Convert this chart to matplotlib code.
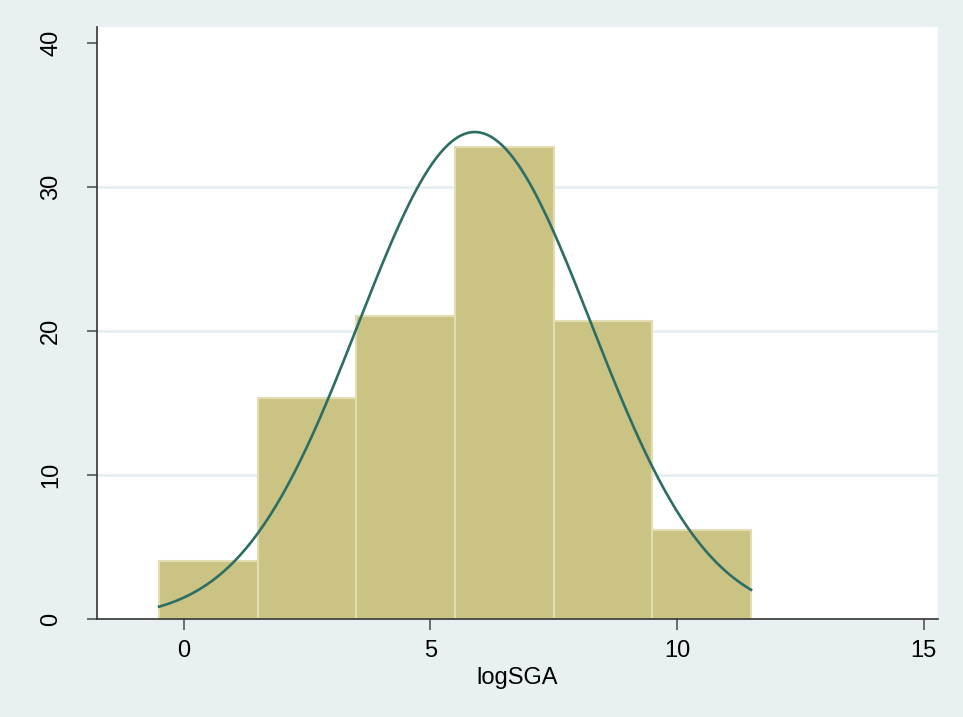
import numpy as np
import matplotlib.pyplot as plt

# histogram of logSGA (percent per bin), bins of width 2
bin_left = [-0.5, 1.5, 3.5, 5.5, 7.5, 9.5]
bin_width = 2.0
percent = [4.0, 15.35, 21.05, 32.8, 20.7, 6.2]

# normal overlay parameters
mu = 5.9
sigma = 2.36
x_ticks = [0, 5, 10, 15]
y_ticks = [0, 10, 20, 30, 40]

plt.rcParams['font.family'] = ['Liberation Sans', 'DejaVu Sans']

bg = '#E8F0F2'
fig = plt.figure(figsize=(9.63, 7.17), dpi=100, facecolor=bg)
ax = fig.add_axes([0.1007, 0.1367, 0.8733, 0.8256])
ax.set_facecolor('white')

# light gridlines
for yv in y_ticks[1:-1]:
    ax.axhline(yv, color='#E6EFF1', linewidth=2, zorder=0)

ax.bar(bin_left, percent, width=bin_width, align='edge',
       color='#CBC383', edgecolor='#E2DDB2', linewidth=1.5, zorder=2)

# normal density scaled to percent per bin
xs = np.linspace(bin_left[0], bin_left[-1] + bin_width, 300)
ys = 100 * bin_width * np.exp(-0.5 * ((xs - mu) / sigma) ** 2) / (sigma * np.sqrt(2 * np.pi))
ax.plot(xs, ys, color='#2C6E64', linewidth=1.9, zorder=3)

ax.set_xlim(-1.76, 15.29)
ax.set_ylim(0, 41.1)
ax.set_xticks(x_ticks)
ax.set_yticks(y_ticks)
ax.set_yticklabels([str(v) for v in y_ticks], rotation=90, va='center')

for s in ['top', 'right']:
    ax.spines[s].set_visible(False)
for s in ['left', 'bottom']:
    ax.spines[s].set_color('#333333')
    ax.spines[s].set_linewidth(1.2)

ax.tick_params(axis='x', length=8, width=1.2, color='#555555', labelsize=17, pad=7)
ax.tick_params(axis='y', length=7, width=1.2, color='#555555', labelsize=17, pad=18)
ax.set_xlabel('logSGA', fontsize=17, labelpad=4)

fig.savefig('out.png', dpi=100, facecolor=bg)
